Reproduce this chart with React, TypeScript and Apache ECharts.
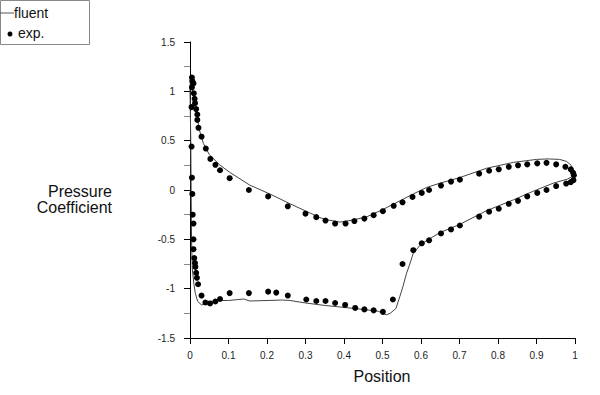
import React, { useEffect, useRef } from "react";
import * as echarts from "echarts";

const fluentLine: number[][] = [
  [1.0, 0.17], [0.997, 0.2], [0.99, 0.25], [0.978, 0.29], [0.96, 0.31], [0.93, 0.315],
  [0.9, 0.31], [0.84, 0.28], [0.77, 0.22], [0.7, 0.125], [0.65, 0.07], [0.614, 0.025],
  [0.58, -0.04], [0.545, -0.11], [0.5, -0.2], [0.46, -0.27], [0.423, -0.305], [0.39, -0.325],
  [0.36, -0.305], [0.337, -0.28], [0.31, -0.23], [0.26, -0.14], [0.21, -0.045], [0.155, 0.05],
  [0.103, 0.18], [0.077, 0.255], [0.05, 0.36], [0.035, 0.47], [0.025, 0.6], [0.015, 0.8],
  [0.008, 0.98], [0.003, 1.1], [0.001, 1.12],
  [0.0, 1.0], [0.002, 0.5], [0.003, 0.0], [0.004, -0.5], [0.006, -0.8], [0.01, -0.95],
  [0.014, -1.05], [0.02, -1.13], [0.03, -1.165], [0.045, -1.15], [0.06, -1.125], [0.08, -1.12],
  [0.1, -1.12], [0.125, -1.11], [0.14, -1.105], [0.155, -1.125], [0.2, -1.12], [0.24, -1.115],
  [0.26, -1.12], [0.3, -1.145], [0.35, -1.17], [0.4, -1.19], [0.45, -1.21], [0.49, -1.23],
  [0.5, -1.25], [0.51, -1.265], [0.52, -1.25], [0.535, -1.2], [0.545, -1.08], [0.553, -0.98],
  [0.562, -0.85], [0.571, -0.75], [0.58, -0.64], [0.6, -0.55], [0.62, -0.5], [0.65, -0.43],
  [0.7, -0.35], [0.77, -0.21], [0.84, -0.1], [0.89, -0.015], [0.944, 0.07], [0.98, 0.11],
  [0.995, 0.14], [1.0, 0.17],
];

const expUpper: number[][] = [
  [0.004, 0.44], [0.004, 0.84], [0.005, 1.04], [0.005, 1.14], [0.006, 1.105], [0.009, 1.08],
  [0.01, 0.98], [0.012, 0.925], [0.013, 0.88], [0.016, 0.82], [0.019, 0.765], [0.019, 0.71],
  [0.022, 0.63], [0.03, 0.54], [0.041, 0.42], [0.053, 0.315], [0.066, 0.255], [0.078, 0.2],
  [0.103, 0.12], [0.153, 0.0], [0.203, -0.065], [0.254, -0.165], [0.3, -0.24], [0.328, -0.275],
  [0.352, -0.31], [0.377, -0.34], [0.404, -0.34], [0.427, -0.315], [0.453, -0.29], [0.477, -0.255],
  [0.501, -0.215], [0.529, -0.16], [0.552, -0.125], [0.578, -0.07], [0.602, -0.03], [0.621, 0.0],
  [0.652, 0.045], [0.678, 0.085], [0.701, 0.105], [0.751, 0.165], [0.777, 0.195], [0.802, 0.21],
  [0.828, 0.235], [0.852, 0.25], [0.876, 0.26], [0.902, 0.27], [0.926, 0.275], [0.951, 0.26],
  [0.975, 0.235], [0.989, 0.21], [0.995, 0.175], [0.997, 0.15],
];

const expLower: number[][] = [
  [0.996, 0.1], [0.989, 0.08], [0.977, 0.065], [0.951, 0.04], [0.926, 0.0], [0.902, -0.03],
  [0.876, -0.065], [0.852, -0.11], [0.828, -0.14], [0.802, -0.19], [0.777, -0.22], [0.751, -0.27],
  [0.701, -0.36], [0.678, -0.4], [0.652, -0.44], [0.621, -0.51], [0.602, -0.54], [0.58, -0.61],
  [0.552, -0.75], [0.527, -1.11], [0.501, -1.235], [0.477, -1.22], [0.453, -1.21], [0.429, -1.195],
  [0.403, -1.165], [0.377, -1.145], [0.352, -1.125], [0.328, -1.125], [0.302, -1.11], [0.254, -1.07],
  [0.224, -1.04], [0.203, -1.03], [0.153, -1.045], [0.103, -1.045], [0.078, -1.105], [0.066, -1.13],
  [0.052, -1.15], [0.04, -1.14], [0.03, -1.07], [0.021, -0.955], [0.018, -0.89], [0.016, -0.84],
  [0.014, -0.78], [0.013, -0.74], [0.011, -0.69], [0.009, -0.6], [0.009, -0.5], [0.009, -0.34],
  [0.007, -0.25], [0.006, -0.04], [0.005, 0.125],
];

const FONT = "'Liberation Sans', Arial, sans-serif";

export default function App() {
  const ref = useRef<HTMLDivElement>(null);
  useEffect(() => {
    if (!ref.current) return;
    const chart = echarts.init(ref.current, undefined, { renderer: "svg" });
    const axisCommon = {
      axisLine: { show: true, onZero: false, lineStyle: { color: "#000", width: 1 } },
      axisTick: { show: true, length: 6, lineStyle: { color: "#000" } },
      splitLine: { show: false },
      axisLabel: { color: "#222", fontSize: 10, fontFamily: FONT },
    };
    chart.setOption({
      animation: false,
      backgroundColor: "#fff",
      grid: { left: 190, top: 42, width: 385, height: 296, containLabel: false },
      xAxis: {
        type: "value",
        min: 0,
        max: 1,
        interval: 0.1,
        ...axisCommon,
        axisLabel: { ...axisCommon.axisLabel, margin: 12 },
      },
      yAxis: {
        type: "value",
        min: -1.5,
        max: 1.5,
        interval: 0.5,
        ...axisCommon,
        minorTick: { show: true, splitNumber: 2, length: 6, lineStyle: { color: "#888" } },
        axisLabel: { ...axisCommon.axisLabel, margin: 15 },
      },
      series: [
        {
          name: "fluent",
          type: "line",
          data: fluentLine,
          showSymbol: false,
          symbol: "none",
          lineStyle: { color: "#444", width: 1 },
          z: 2,
        },
        {
          name: "exp.",
          type: "scatter",
          data: [...expUpper, ...expLower],
          symbol: "circle",
          symbolSize: 6,
          itemStyle: { color: "#000", opacity: 1 },
          z: 3,
        },
      ],
      graphic: [
        {
          type: "rect",
          shape: { x: 0.5, y: 0.5, width: 89, height: 44 },
          style: { fill: "#fff", stroke: "#888", lineWidth: 1 },
        },
        {
          type: "line",
          shape: { x1: 0, y1: 13, x2: 14, y2: 13 },
          style: { stroke: "#555", lineWidth: 1 },
        },
        {
          type: "text",
          x: 14,
          y: 13,
          style: { text: "fluent", font: `14px ${FONT}`, fill: "#111", verticalAlign: "middle", align: "left" },
        },
        {
          type: "circle",
          shape: { cx: 10, cy: 34, r: 2.5 },
          style: { fill: "#000" },
        },
        {
          type: "text",
          x: 18,
          y: 33,
          style: { text: "exp.", font: `14px ${FONT}`, fill: "#111", verticalAlign: "middle", align: "left" },
        },
        {
          type: "text",
          x: 112,
          y: 191,
          style: { text: "Pressure", font: `16px ${FONT}`, fill: "#111", verticalAlign: "middle", align: "right" },
        },
        {
          type: "text",
          x: 112,
          y: 207,
          style: { text: "Coefficient", font: `16px ${FONT}`, fill: "#111", verticalAlign: "middle", align: "right" },
        },
        {
          type: "text",
          x: 382,
          y: 376,
          style: { text: "Position", font: `16px ${FONT}`, fill: "#111", verticalAlign: "middle", align: "center" },
        },
      ],
    });
    return () => chart.dispose();
  }, []);
  return <div ref={ref} style={{ width: 600, height: 395, position: "fixed", left: 0, top: 0 }} />;
}
